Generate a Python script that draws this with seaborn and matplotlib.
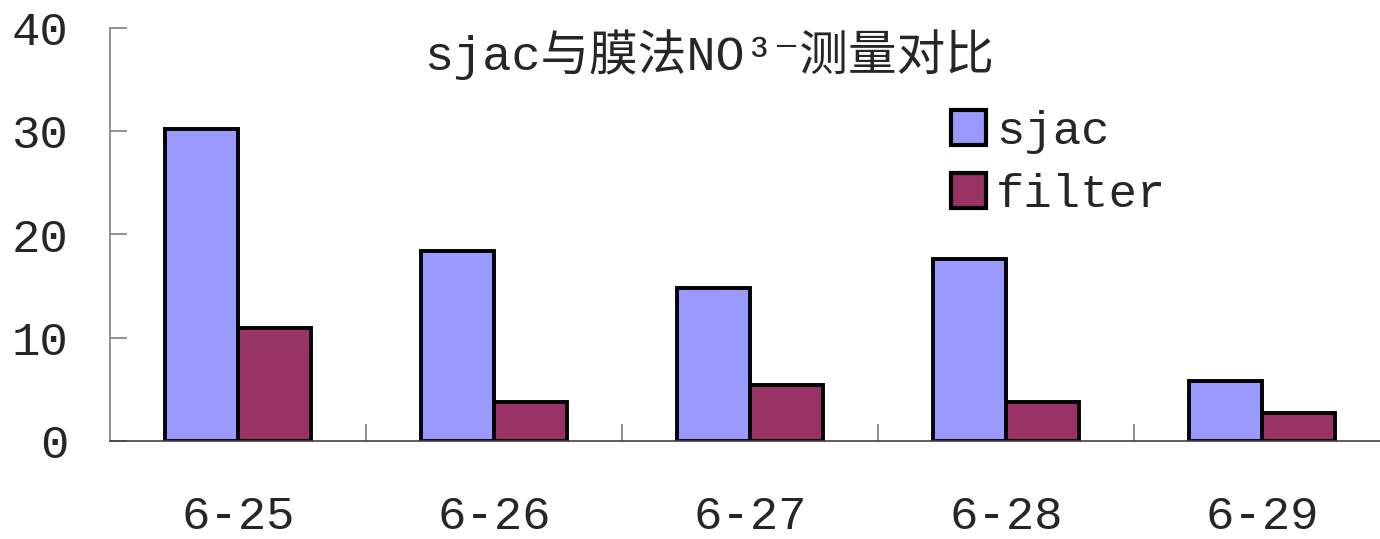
import pandas as pd
import matplotlib
matplotlib.use("Agg")
import matplotlib.pyplot as plt
import seaborn as sns

# values
dates = ["6-25", "6-26", "6-27", "6-28", "6-29"]
sjac = [30.2, 18.4, 14.8, 17.6, 5.8]
filt = [10.9, 3.8, 5.4, 3.8, 2.7]
series_names = ["sjac", "filter"]
colors = ["#9999FF", "#993366"]

df = pd.DataFrame({
    "date": dates * 2,
    "value": sjac + filt,
    "series": [series_names[0]] * len(dates) + [series_names[1]] * len(dates),
})

sns.set_style("white")
plt.rcParams["font.family"] = ["Liberation Mono", "Noto Sans CJK SC", "DejaVu Sans"]

fig = plt.figure(figsize=(13.8, 5.39), dpi=100)
ax = fig.add_axes([110 / 1380, 1 - 441 / 539, 1270 / 1380, 413 / 539])

sns.barplot(data=df, x="date", y="value", hue="series", palette=colors,
            width=0.57, edgecolor="black", linewidth=2.8, saturation=1,
            ax=ax)

ax.set_ylim(0, 40)
ax.set_xlim(-0.5, -0.5 + 1270 / 256)
ax.set_yticks([0, 10, 20, 30, 40])
ax.set_xlabel("")
ax.set_ylabel("")

for s in ["top", "right"]:
    ax.spines[s].set_visible(False)
ax.spines["left"].set_color("#808080")
ax.spines["bottom"].set_color("#404040")
ax.spines["left"].set_linewidth(1.2)
ax.spines["bottom"].set_linewidth(1.2)

ax.tick_params(axis="y", direction="in", length=12, width=1.2, color="#808080",
               labelsize=34, pad=30, left=True)
# category ticks at boundaries, labels at centres
ax.set_xticks(range(len(dates)))
ax.set_xticklabels(dates)
ax.tick_params(axis="x", which="major", length=0, labelsize=34, pad=39)
ax.set_xticks([i + 0.5 for i in range(len(dates) - 1)], minor=True)
ax.tick_params(axis="x", which="minor", direction="in", length=12, width=1.2,
               color="#808080", bottom=True)

fig.text(709 / 1380, 1 - 55 / 539, "sjac与膜法NO³⁻测量对比", fontsize=35,
         ha="center", va="center")

handles, labels = ax.get_legend_handles_labels()
ax.legend(handles, labels, loc="upper left", frameon=False,
          bbox_to_anchor=(951 / 1380, 1 - 110 / 539),
          bbox_transform=fig.transFigure, fontsize=34,
          handlelength=0.75, handleheight=0.75, handletextpad=0.2,
          labelspacing=0.4, borderpad=0, borderaxespad=0)
for h in ax.get_legend().get_patches():
    h.set_linewidth(3)

fig.savefig("out.png", dpi=100)
